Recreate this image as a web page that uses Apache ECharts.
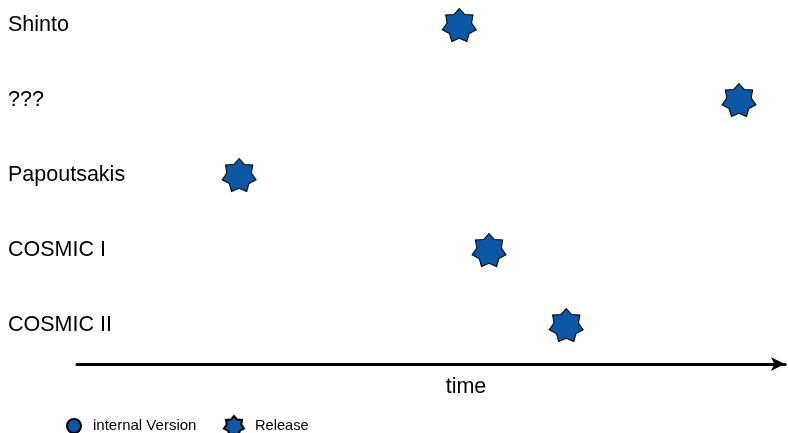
<!DOCTYPE html>
<html><head><meta charset="utf-8">
<script src="https://cdn.jsdelivr.net/npm/echarts@6/dist/echarts.min.js"></script>
<style>html,body{margin:0;padding:0;background:#fff}#c{width:788px;height:433px}</style>
</head><body><div id="c"></div>
<script>
// categories from bottom to top
const projects = ['COSMIC II', 'COSMIC I', 'Papoutsakis', '???', 'Shinto'];
// release time (arbitrary time units)
const releaseTime = [69.1, 58.2, 22.9, 93.5, 54.0];
const internalTime = [];
const seriesNames = ['internal Version', 'Release'];
const axisName = 'time';

const STAR = 'path://M100 0 L131.24 35.13 L178.18 37.65 L170.19 83.98 L197.49 122.25 L156.29 144.89 L143.39 190.1 L100 172 L56.61 190.1 L43.71 144.89 L2.51 122.25 L29.81 83.98 L21.82 37.65 L68.76 35.13 Z';
const FONT = 'Liberation Sans, Arial, Helvetica, sans-serif';
const BLUE = '#0b57a4';

const chart = echarts.init(document.getElementById('c'), null, {renderer: 'canvas'});
chart.setOption({
  animation: false,
  grid: {left: 77, right: 3, top: 25, bottom: 108, containLabel: false},
  xAxis: {
    type: 'value', min: 0, max: 100,
    offset: 39,
    name: axisName, nameLocation: 'middle', nameGap: 12,
    nameTextStyle: {fontFamily: FONT, fontSize: 21.5, color: '#000', padding: [0, 0, 0, 70]},
    axisLine: {show: true, symbol: ['none', 'arrow'], symbolSize: [10, 14], lineStyle: {color: '#000', width: 3}},
    axisTick: {show: false}, axisLabel: {show: false}, splitLine: {show: false}
  },
  yAxis: {
    type: 'category', data: projects, boundaryGap: false,
    axisLine: {show: false}, axisTick: {show: false}, splitLine: {show: false},
    axisLabel: {align: 'left', margin: 69, fontFamily: FONT, fontSize: 21.5, color: '#000'}
  },
  legend: [{
    data: [seriesNames[0]], left: 66, top: 418, padding: 0, itemWidth: 14, itemHeight: 14,
    textStyle: {fontFamily: FONT, fontSize: 15, color: '#000', padding: [0, 0, 0, 7]}, selectedMode: false
  }, {
    data: [seriesNames[1]], left: 223, top: 415, padding: 0, itemWidth: 20, itemHeight: 20,
    textStyle: {fontFamily: FONT, fontSize: 14.6, color: '#000', padding: [0, 0, 0, 6]}, selectedMode: false
  }],
  series: [{
    name: seriesNames[0], type: 'scatter', symbol: 'circle', symbolSize: 12,
    itemStyle: {color: BLUE, opacity: 1, borderColor: '#000', borderWidth: 1},
    data: internalTime
  }, {
    name: seriesNames[1], type: 'scatter', symbol: STAR, symbolSize: [34, 33],
    itemStyle: {color: BLUE, opacity: 1, borderColor: '#000', borderWidth: 1},
    data: releaseTime.map((v, i) => [v, projects[i]])
  }]
});
</script></body></html>
